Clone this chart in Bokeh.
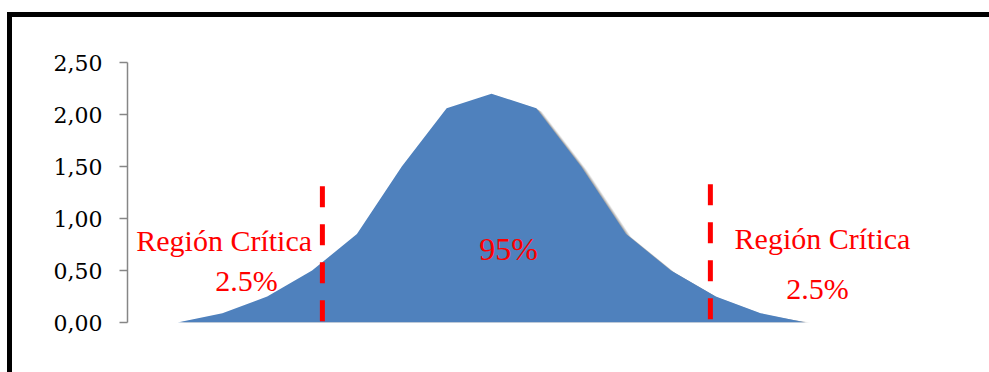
from bokeh.plotting import figure
from bokeh.models import (ColumnDataSource, FixedTicker, Range1d, Label, Div, Spacer)
from bokeh.layouts import row, column
from bokeh.embed import file_html
from bokeh.resources import INLINE

# ---- data ----
categories = list(range(15))
density = [0.00, 0.09, 0.25, 0.50, 0.85, 1.50, 2.06, 2.20, 2.06, 1.50, 0.85, 0.50, 0.25, 0.09, 0.00]
critical_x = [3.23, 11.88]
critical_top = [1.31, 1.33]
tick_values = [0, 0.5, 1, 1.5, 2, 2.5]
tick_labels = ["0,00", "0,50", "1,00", "1,50", "2,00", "2,50"]
label_texts = ["Región Crítica", "2.5%", "95%", "Región Crítica", "2.5%"]

BLUE = "#4F81BD"
RED = "#FF0000"

p = figure(width=977, height=355, output_backend="svg", toolbar_location=None,
           x_range=Range1d(-1.115, 17.88), y_range=Range1d(0, 2.5),
           min_border_left=115, min_border_top=45, min_border_bottom=50,
           min_border_right=10)
p.outline_line_color = None
p.background_fill_color = "white"
p.border_fill_color = "white"
p.grid.visible = False
p.xaxis.visible = False

# shadow (soft, offset down-right)
for k, a in [(1, 0.22), (2, 0.18), (3, 0.14), (4, 0.10)]:
    dx = 0.03 * k
    dy = 0.008 * k
    p.varea(x=[c + dx for c in categories],
            y1=[0] * len(categories),
            y2=[max(v - dy, 0) for v in density],
            fill_color="#505050", fill_alpha=a)

src = ColumnDataSource(dict(x=categories, y=density))
p.varea(x="x", y1=0, y2="y", source=src, fill_color=BLUE)

# critical value lines
p.segment(x0=critical_x, y0=critical_top, x1=critical_x, y1=[0, 0],
          line_color=RED, line_width=5, line_dash="21 17", line_cap="butt")

# texts
label_pos = [(1.04, 0.79, 30), (1.54, 0.40, 30), (7.38, 0.71, 32),
             (14.38, 0.81, 30), (14.27, 0.33, 30)]
for t, (lx, ly, fs) in zip(label_texts, label_pos):
    p.add_layout(Label(x=lx, y=ly, text=t, text_align="center",
                       text_baseline="alphabetic", text_color=RED,
                       text_font="Liberation Serif", text_font_size=f"{fs}px"))

# y axis
ax = p.yaxis[0]
ax.ticker = FixedTicker(ticks=tick_values)
ax.major_label_overrides = dict(zip(tick_values, tick_labels))
ax.axis_line_color = "#868686"
ax.axis_line_width = 1.5
ax.major_tick_line_color = "#868686"
ax.major_tick_line_width = 1.5
ax.major_tick_out = 8
ax.major_tick_in = 0
ax.minor_tick_line_color = None
ax.major_label_standoff = 17
ax.major_label_text_font = "DejaVu Serif"
ax.major_label_text_font_size = "22px"
ax.major_label_text_color = "black"

top_line = Div(text="", width=977, height=5, margin=0,
               styles={"background-color": "black"})
left_line = Div(text="", width=5, height=360, margin=0,
                styles={"background-color": "black"})
layout = column(Spacer(width=989, height=12, margin=0),
                row(Spacer(width=7, height=360, margin=0), left_line,
                    column(top_line, p, spacing=0, margin=0), spacing=0, margin=0),
                spacing=0, margin=0)

open("out.html", "w").write(file_html(layout, INLINE))
